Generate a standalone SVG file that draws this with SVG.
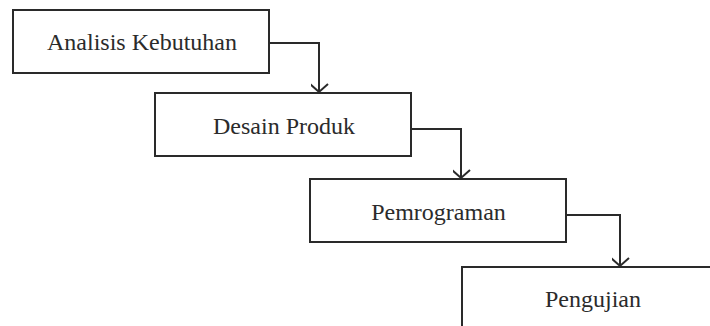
<svg xmlns="http://www.w3.org/2000/svg" width="710" height="326" viewBox="0 0 710 326">
<style>
.box{fill:#fff;stroke:#2a2a2a;stroke-width:2}
.lbl{font-family:"Liberation Serif","Times New Roman",serif;font-size:24px;fill:#2b2b2b;text-anchor:middle}
.conn{fill:none;stroke:#2a2a2a;stroke-width:2}
</style>
<defs>
<marker id="arr" markerUnits="userSpaceOnUse" markerWidth="20" markerHeight="20" refX="10" refY="12" orient="auto-start-reverse" viewBox="0 0 20 20">
<polyline points="1,4 10,12 19,4" transform="rotate(-90 10 12)" fill="none" stroke="#2a2a2a" stroke-width="2"/>
</marker>
</defs>
<rect width="710" height="326" fill="#fff"/>
<g id="n1"><rect class="box" x="13" y="10" width="256" height="63"/><text class="lbl" x="142" y="50">Analisis Kebutuhan</text></g>
<g id="n2"><rect class="box" x="155" y="93" width="256" height="63"/><text class="lbl" x="284" y="134">Desain Produk</text></g>
<g id="n3"><rect class="box" x="310" y="179" width="256" height="63"/><text class="lbl" x="438.5" y="220">Pemrograman</text></g>
<g id="n4"><rect class="box" x="462" y="267" width="260" height="70"/><text class="lbl" x="593" y="307">Pengujian</text></g>
<g id="connectors">
<path class="conn" d="M269 43 H319 V92" marker-end="url(#arr)"/>
<path class="conn" d="M411 129 H461 V178" marker-end="url(#arr)"/>
<path class="conn" d="M566 215 H620 V266" marker-end="url(#arr)"/>
</g>
</svg>
